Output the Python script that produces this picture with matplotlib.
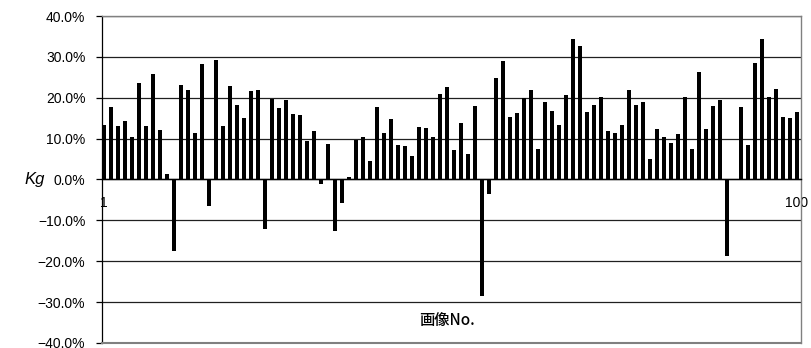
import matplotlib
matplotlib.use("Agg")
import matplotlib.pyplot as plt
from matplotlib.ticker import FuncFormatter, FixedLocator

# Kg per image (percent), images 1..100
image_no = list(range(1, 101))
kg_values = [
    13.3, 17.7, 13.1, 14.3, 10.4, 23.6, 13.1, 25.8, 12.1, 1.3,
    -17.5, 23.1, 21.9, 11.4, 28.3, -6.5, 29.2, 13.1, 22.9, 18.2,
    15.0, 21.6, 21.9, -12.1, 19.7, 17.5, 19.4, 16.0, 15.8, 9.4,
    11.8, -1.1, 8.7, -12.6, -5.7, 0.6, 9.6, 10.4, 4.5, 17.7,
    11.4, 14.8, 8.4, 8.2, 5.7, 12.8, 12.6, 10.4, 20.9, 22.6,
    7.2, 13.8, 6.2, 18.0, -28.4, -3.5, 24.8, 29.0, 15.3, 16.3,
    19.9, 21.9, 7.4, 18.9, 16.7, 13.3, 20.7, 34.4, 32.7, 16.5,
    18.2, 20.2, 11.8, 11.4, 13.3, 21.9, 18.2, 18.9, 5.0, 12.3,
    10.4, 8.9, 11.1, 20.2, 7.4, 26.3, 12.3, 18.0, 19.4, -18.8,
    0.0, 17.7, 8.4, 28.5, 34.4, 20.2, 22.1, 15.3, 15.0, 16.5,
]
y_ticks = [-40, -30, -20, -10, 0, 10, 20, 30, 40]
x_tick_pos = [1, 100]
x_tick_labels = ["1", "100"]

plt.rcParams['font.family'] = ['Liberation Sans', 'DejaVu Sans']

fig = plt.figure(figsize=(8.12, 3.48), dpi=100)
ax = fig.add_axes([0.1256, 0.0144, 0.8609, 0.9396])

ax.bar(image_no, kg_values, width=0.57, color='black', zorder=3)

ax.set_xlim(0.67, 100.57)
ax.set_ylim(-40, 40)

# horizontal grid
ax.yaxis.set_major_locator(FixedLocator(y_ticks))
ax.yaxis.set_major_formatter(FuncFormatter(
    lambda v, p: ("%.1f%%" % v).replace('-', '\u2212')))
ax.grid(axis='y', color='#202020', linewidth=0.9, zorder=1)
ax.tick_params(axis='y', direction='out', length=4, width=0.9,
               color='black', labelsize=10, pad=8)

# category axis crossing at zero
ax.spines['bottom'].set_position(('data', 0))
ax.spines['bottom'].set_color('black')
ax.spines['bottom'].set_linewidth(1.0)
ax.spines['bottom'].set_zorder(4)
ax.set_xticks(x_tick_pos)
ax.set_xticklabels(x_tick_labels)
ax.tick_params(axis='x', length=0, labelsize=10, pad=12)

for s in ('top', 'right'):
    ax.spines[s].set_color('#808080')
    ax.spines[s].set_linewidth(1.0)
ax.spines['left'].set_color('black')
ax.spines['left'].set_linewidth(0.9)
ax.axhline(-40, color='#808080', linewidth=1.5, zorder=5, clip_on=False)

ax.text(-0.111, 0.5, 'Kg', transform=ax.transAxes, fontsize=12,
        style='italic', ha='left', va='center')
ax.text(0.494, 0.07, '画像No.', transform=ax.transAxes,
        family=['Noto Sans CJK JP', 'DejaVu Sans'], fontsize=11,
        fontweight='medium', ha='center', va='center')

fig.savefig('out.png', dpi=100)
